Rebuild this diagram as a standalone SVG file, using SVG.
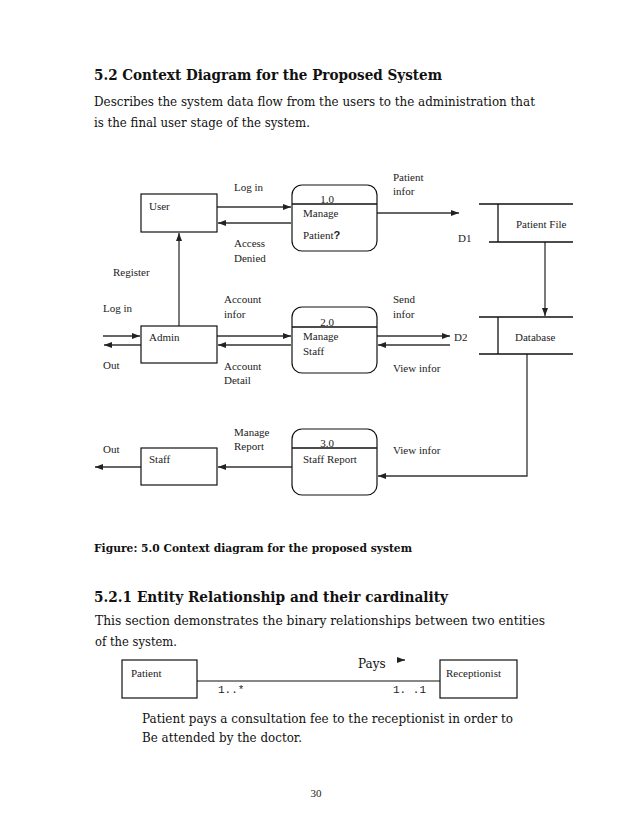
<svg xmlns="http://www.w3.org/2000/svg" width="638" height="826" viewBox="0 0 638 826">
<defs>
<marker id="ah" markerWidth="8" markerHeight="6" refX="8" refY="3" orient="auto" markerUnits="userSpaceOnUse">
<path d="M0,0 L8,3 L0,6 Z" fill="#222"/>
</marker>
<style>
.doc{font-family:"DejaVu Serif","Liberation Serif",serif;fill:#111}
.h{font-weight:bold;font-size:15px}
.p{font-size:12.5px}
.cap{font-weight:bold;font-size:11px}
.lbl{font-family:"Liberation Serif","Times New Roman",serif;font-size:11px;fill:#222}
.box{fill:#fff;stroke:#111;stroke-width:1.2}
.proc{fill:#fff;stroke:#111;stroke-width:1.2}
.ln{fill:none;stroke:#111;stroke-width:1.3}
.arr{fill:none;stroke:#333;stroke-width:1.3;marker-end:url(#ah)}
.mono{font-family:"Liberation Mono","Courier New",monospace;font-size:11px;fill:#222}
</style>
</defs>
<rect width="638" height="826" fill="#fff"/>

<text class="doc h" x="94" y="80" textLength="348" lengthAdjust="spacingAndGlyphs">5.2 Context Diagram for the Proposed System</text>
<text class="doc p" x="94" y="106" textLength="441" lengthAdjust="spacingAndGlyphs">Describes the system data flow from the users to the administration that</text>
<text class="doc p" x="94" y="127" textLength="216" lengthAdjust="spacingAndGlyphs">is the final user stage of the system.</text>

<g id="connectors">
<line class="arr" x1="217" y1="207" x2="291" y2="207"/>
<line class="arr" x1="291" y1="223" x2="218" y2="223"/>
<line class="arr" x1="377" y1="213" x2="459" y2="213"/>
<line class="arr" x1="545" y1="242" x2="545" y2="316"/>
<line class="arr" x1="179" y1="326" x2="179" y2="233"/>
<line class="arr" x1="103" y1="336" x2="140" y2="336"/>
<line class="arr" x1="141" y1="345" x2="104" y2="345"/>
<line class="arr" x1="217" y1="336" x2="291" y2="336"/>
<line class="arr" x1="291" y1="345" x2="218" y2="345"/>
<line class="arr" x1="377" y1="336" x2="450" y2="336"/>
<line class="arr" x1="450" y1="345" x2="378" y2="345"/>
<polyline class="arr" points="527,354 527,476 378,476"/>
<line class="arr" x1="292" y1="467" x2="218" y2="467"/>
<line class="arr" x1="141" y1="467" x2="95" y2="467"/>
</g>

<g id="labels">
<text class="lbl" x="234" y="191">Log in</text>
<text class="lbl" x="234" y="247">Access</text>
<text class="lbl" x="234" y="262">Denied</text>
<text class="lbl" x="393" y="181">Patient</text>
<text class="lbl" x="393" y="195">infor</text>
<text class="lbl" x="113" y="276">Register</text>
<text class="lbl" x="103" y="312">Log in</text>
<text class="lbl" x="103" y="369">Out</text>
<text class="lbl" x="224" y="303">Account</text>
<text class="lbl" x="224" y="318">infor</text>
<text class="lbl" x="224" y="370">Account</text>
<text class="lbl" x="224" y="384">Detail</text>
<text class="lbl" x="393" y="303">Send</text>
<text class="lbl" x="393" y="318">infor</text>
<text class="lbl" x="393" y="372">View infor</text>
<text class="lbl" x="234" y="436">Manage</text>
<text class="lbl" x="234" y="450">Report</text>
<text class="lbl" x="393" y="454">View infor</text>
<text class="lbl" x="103" y="453">Out</text>
</g>

<g id="user">
<rect class="box" x="141" y="194" width="76" height="38"/>
<text class="lbl" x="149" y="210">User</text>
</g>
<g id="admin">
<rect class="box" x="141" y="326" width="76" height="37"/>
<text class="lbl" x="149" y="341">Admin</text>
</g>
<g id="staff">
<rect class="box" x="141" y="448" width="76" height="37"/>
<text class="lbl" x="149" y="463">Staff</text>
</g>

<g id="p1">
<rect class="proc" x="292" y="185" width="85" height="66" rx="10"/>
<line class="ln" x1="292" y1="204" x2="377" y2="204"/>
<text class="lbl" x="327" y="203" text-anchor="middle">1.0</text>
<text class="lbl" x="303" y="217">Manage</text>
<text class="lbl" x="303" y="239">Patient<tspan font-family="Liberation Sans, Arial, sans-serif" font-weight="bold">?</tspan></text>
</g>
<g id="p2">
<rect class="proc" x="292" y="307" width="85" height="66" rx="10"/>
<line class="ln" x1="292" y1="327" x2="377" y2="327"/>
<text class="lbl" x="327" y="326" text-anchor="middle">2.0</text>
<text class="lbl" x="303" y="340">Manage</text>
<text class="lbl" x="303" y="355">Staff</text>
</g>
<g id="p3">
<rect class="proc" x="292" y="429" width="85" height="66" rx="10"/>
<line class="ln" x1="292" y1="448" x2="377" y2="448"/>
<text class="lbl" x="327" y="447" text-anchor="middle">3.0</text>
<text class="lbl" x="303" y="463">Staff Report</text>
</g>

<g id="d1">
<line class="ln" x1="479" y1="204" x2="573" y2="204"/>
<line class="ln" x1="489" y1="242" x2="573" y2="242"/>
<line class="ln" x1="498" y1="204" x2="498" y2="242"/>
<text class="lbl" x="458" y="242">D1</text>
<text class="lbl" x="516" y="228">Patient File</text>
</g>
<g id="d2">
<line class="ln" x1="479" y1="317" x2="573" y2="317"/>
<line class="ln" x1="479" y1="354" x2="573" y2="354"/>
<line class="ln" x1="498" y1="317" x2="498" y2="354"/>
<text class="lbl" x="454" y="341">D2</text>
<text class="lbl" x="515" y="341">Database</text>
</g>

<text class="doc cap" x="94" y="552" textLength="318" lengthAdjust="spacingAndGlyphs">Figure: 5.0 Context diagram for the proposed system</text>
<text class="doc h" x="94" y="602" textLength="354" lengthAdjust="spacingAndGlyphs">5.2.1 Entity Relationship and their cardinality</text>
<text class="doc p" x="95" y="625" textLength="450" lengthAdjust="spacingAndGlyphs">This section demonstrates the binary relationships between two entities</text>
<text class="doc p" x="95" y="646" textLength="82" lengthAdjust="spacingAndGlyphs">of the system.</text>

<g id="er-connector">
<line x1="197" y1="681" x2="440" y2="681" stroke="#111" stroke-width="1.2"/>
<line x1="398" y1="660" x2="405" y2="660" stroke="#111" stroke-width="1.2" marker-end="url(#ah)"/>
</g>
<g id="patient">
<rect class="box" x="122" y="660" width="75" height="38"/>
<text class="lbl" x="131" y="677">Patient</text>
</g>
<g id="receptionist">
<rect class="box" x="440" y="660" width="77" height="38"/>
<text class="lbl" x="446" y="677">Receptionist</text>
</g>
<text class="doc" x="358" y="668" font-size="12">Pays</text>
<text class="mono" x="218" y="693">1..*</text>
<text class="mono" x="393" y="693">1. .1</text>
<text class="doc p" x="142" y="723" textLength="371" lengthAdjust="spacingAndGlyphs">Patient pays a consultation fee to the receptionist in order to</text>
<text class="doc p" x="142" y="742" textLength="160" lengthAdjust="spacingAndGlyphs">Be attended by the doctor.</text>
<text class="lbl" x="316" y="797" text-anchor="middle">30</text>
</svg>
